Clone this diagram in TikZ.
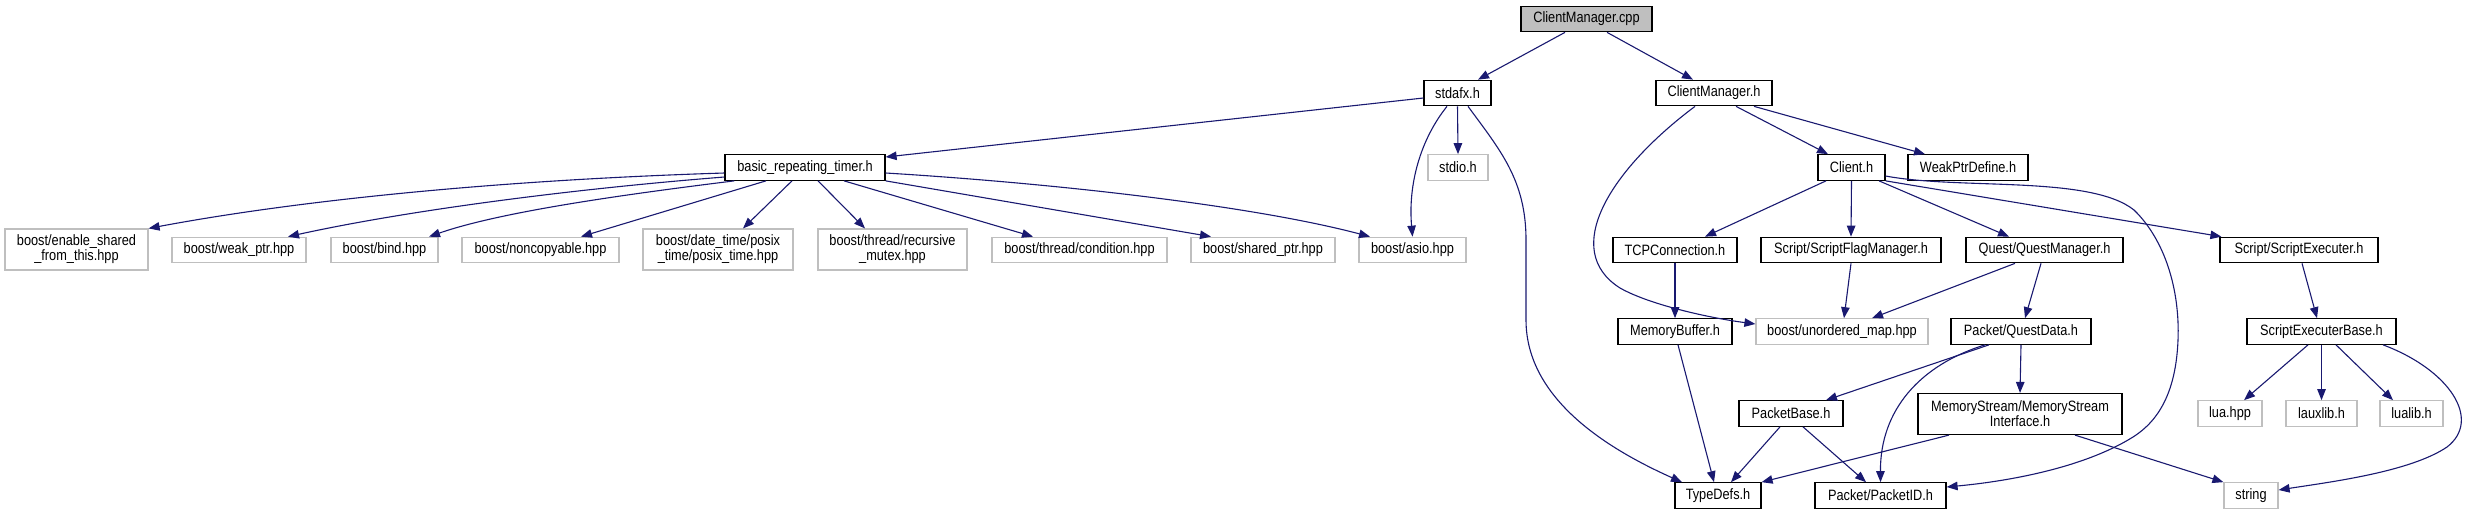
\documentclass[tikz,border=0pt]{standalone}
\usepackage{fontspec}
\setmainfont[FakeStretch=0.85]{Liberation Sans}
\usetikzlibrary{arrows.meta}
\definecolor{edgeblue}{RGB}{25,25,112}
\definecolor{grey75}{RGB}{191,191,191}

\begin{document}
\begin{tikzpicture}[x=1pt,y=-1pt,
  font=\fontsize{15}{15}\selectfont,
  box/.style={draw=black,line width=1.2pt,inner sep=0pt,minimum height=25.5pt,align=center,fill=white},
  extbox/.style={box,draw=grey75},
  rootbox/.style={box,fill=grey75},
  twoline/.style={minimum height=41pt},
  dep/.style={edgeblue,line width=1.1pt,-{Triangle[length=11pt,width=8.5pt]}}]
\useasboundingbox (0,0) rectangle (2470,515);

% files
\node[rootbox,minimum width=131pt] (cmcpp) at (1586.5,19) {ClientManager.cpp};
\node[box,minimum width=67pt] (stdafx) at (1457.5,93) {stdafx.h};
\node[box,minimum width=116pt] (cmh) at (1714,93) {ClientManager.h};
\node[box,minimum width=160pt] (timer) at (805,167.5) {basic\_repeating\_timer.h};
\node[extbox,minimum width=60pt] (stdio) at (1458,167.5) {stdio.h};
\node[box,minimum width=67pt] (client) at (1851.5,167.5) {Client.h};
\node[box,minimum width=120pt] (weakdef) at (1968,167.5) {WeakPtrDefine.h};
\node[extbox,twoline,minimum width=143pt] (enable) at (76.5,249.5) {boost/enable\_shared\\\_from\_this.hpp};
\node[extbox,minimum width=134pt] (weakptr) at (239,250) {boost/weak\_ptr.hpp};
\node[extbox,minimum width=107pt] (bind) at (384.5,250) {boost/bind.hpp};
\node[extbox,minimum width=157pt] (noncopy) at (540.5,250) {boost/noncopyable.hpp};
\node[extbox,twoline,minimum width=150pt] (posix) at (718,249.5) {boost/date\_time/posix\\\_time/posix\_time.hpp};
\node[extbox,twoline,minimum width=149pt] (rmutex) at (892.5,249.5) {boost/thread/recursive\\\_mutex.hpp};
\node[extbox,minimum width=175pt] (cond) at (1079.5,250) {boost/thread/condition.hpp};
\node[extbox,minimum width=144pt] (shared) at (1263,250) {boost/shared\_ptr.hpp};
\node[extbox,minimum width=107pt] (asio) at (1412.5,250) {boost/asio.hpp};
\node[box,minimum width=124pt] (tcp) at (1675,250) {TCPConnection.h};
\node[box,minimum width=180pt] (flagmgr) at (1851,250) {Script/ScriptFlagManager.h};
\node[box,minimum width=157pt] (questmgr) at (2044.5,250) {Quest/QuestManager.h};
\node[box,minimum width=158pt] (scriptex) at (2299,250) {Script/ScriptExecuter.h};
\node[box,minimum width=114pt] (membuf) at (1675,331.5) {MemoryBuffer.h};
\node[extbox,minimum width=172pt] (umap) at (1842,331.5) {boost/unordered\_map.hpp};
\node[box,minimum width=140pt] (questdata) at (2021,331.5) {Packet/QuestData.h};
\node[box,minimum width=149pt] (scriptbase) at (2321.5,331.5) {ScriptExecuterBase.h};
\node[box,minimum width=104pt] (pktbase) at (1791,413.5) {PacketBase.h};
\node[box,twoline,minimum width=204pt] (memstream) at (2020,414) {MemoryStream/MemoryStream\\Interface.h};
\node[extbox,minimum width=64pt] (lua) at (2230,413.5) {lua.hpp};
\node[extbox,minimum width=71pt] (lauxlib) at (2321.5,413.5) {lauxlib.h};
\node[extbox,minimum width=63pt] (lualib) at (2411.5,413.5) {lualib.h};
\node[box,minimum width=86pt] (typedefs) at (1718,495.5) {TypeDefs.h};
\node[box,minimum width=131pt] (pktid) at (1880.5,495.5) {Packet/PacketID.h};
\node[extbox,minimum width=54pt] (string) at (2251,495.5) {string};

% includes
\draw[dep] ([xshift=-21.5pt]cmcpp.south) -- ([xshift=20.5pt]stdafx.north);
\draw[dep] ([xshift=20.5pt]cmcpp.south) -- ([xshift=-21pt]cmh.north);
\draw[dep] ([yshift=-5pt]stdafx.west) -- ([yshift=10.5pt]timer.east);
\draw[dep] (stdafx.south) -- (stdio.north);
\draw[dep] ([xshift=-10.5pt]stdafx.south) .. controls (1420,140) and (1408,185) .. (asio.north);
\draw[dep] ([xshift=10.5pt]stdafx.south) .. controls (1500,150) and (1526,180) .. (1526,240) -- (1526,320)
  .. controls (1526,400) and (1610,450) .. ([xshift=-36pt]typedefs.north);
\draw[dep] ([yshift=-5.5pt]timer.west) .. controls (500,180) and (300,200) .. (enable.north east);
\draw[dep] ([yshift=-9.5pt]timer.west) .. controls (560,190) and (400,212) .. ([xshift=49pt]weakptr.north);
\draw[dep] ([xshift=10pt]timer.south west) .. controls (620,195) and (500,212) .. ([xshift=44.5pt]bind.north);
\draw[dep] ([xshift=-39pt]timer.south) -- ([xshift=40.5pt]noncopy.north);
\draw[dep] ([xshift=-13pt]timer.south) -- ([xshift=25pt]posix.north);
\draw[dep] ([xshift=13pt]timer.south) -- ([xshift=-27.5pt]rmutex.north);
\draw[dep] ([xshift=39pt]timer.south) -- ([xshift=-46.5pt]cond.north);
\draw[dep] (timer.south east) -- ([xshift=-52pt]shared.north);
\draw[dep] ([yshift=-5.5pt]timer.east) .. controls (1050,183) and (1250,205) .. ([xshift=-42.5pt]asio.north);
\draw[dep] ([xshift=22pt]cmh.south) -- ([xshift=-23.5pt]client.north);
\draw[dep] ([xshift=40pt]cmh.south) -- ([xshift=-43pt]weakdef.north);
\draw[dep] ([xshift=-19pt]cmh.south) .. controls (1610,170) and (1560,250) .. (1620,288)
  .. controls (1650,305) and (1710,318) .. ([yshift=7.5pt]umap.west);
\draw[dep] ([xshift=-25.5pt]client.south) -- ([xshift=30pt]tcp.north);
\draw[dep] (client.south) -- (flagmgr.north);
\draw[dep] ([xshift=27.5pt]client.south) -- ([xshift=-35.5pt]questmgr.north);
\draw[dep] (client.south east) -- ([xshift=2pt]scriptex.north west);
\draw[dep] ([yshift=-8.5pt]client.east) .. controls (1960,190) and (2090,175) .. (2134,210)
  .. controls (2165,240) and (2180,290) .. (2178,340)
  .. controls (2176,390) and (2160,420) .. (2133,437)
  .. controls (2080,470) and (2000,482) .. ([yshift=8.5pt]pktid.east);
\draw[dep] (tcp.south) -- (membuf.north);
\draw[dep] (flagmgr.south) -- ([xshift=2pt]umap.north);
\draw[dep] ([xshift=-29.5pt]questmgr.south) -- ([xshift=30pt]umap.north);
\draw[dep] ([xshift=-3.5pt]questmgr.south) -- ([xshift=4pt]questdata.north);
\draw[dep] ([xshift=3pt]scriptex.south) -- ([xshift=-4.5pt]scriptbase.north);
\draw[dep] ([xshift=3pt]membuf.south) -- ([xshift=-4pt]typedefs.north);
\draw[dep] ([xshift=-32pt]questdata.south) -- ([xshift=35pt]pktbase.north);
\draw[dep] ([xshift=-36pt]questdata.south) .. controls (1920,365) and (1880,410) .. (pktid.north);
\draw[dep] (questdata.south) -- (memstream.north);
\draw[dep] ([xshift=-11pt]pktbase.south) -- ([xshift=13pt]typedefs.north);
\draw[dep] ([xshift=12pt]pktbase.south) -- ([xshift=-14.5pt]pktid.north);
\draw[dep] ([xshift=-71pt]memstream.south) -- (typedefs.north east);
\draw[dep] ([xshift=55pt]memstream.south) -- (string.north west);
\draw[dep] ([xshift=-13.5pt]scriptbase.south) -- ([xshift=14pt]lua.north);
\draw[dep] (scriptbase.south) -- (lauxlib.north);
\draw[dep] ([xshift=14.5pt]scriptbase.south) -- ([xshift=-18.5pt]lualib.north);
\draw[dep] ([xshift=61.5pt]scriptbase.south) .. controls (2450,370) and (2482,420) .. (2447,447)
  .. controls (2410,472) and (2330,482) .. ([yshift=5.5pt]string.east);
\end{tikzpicture}
\end{document}
